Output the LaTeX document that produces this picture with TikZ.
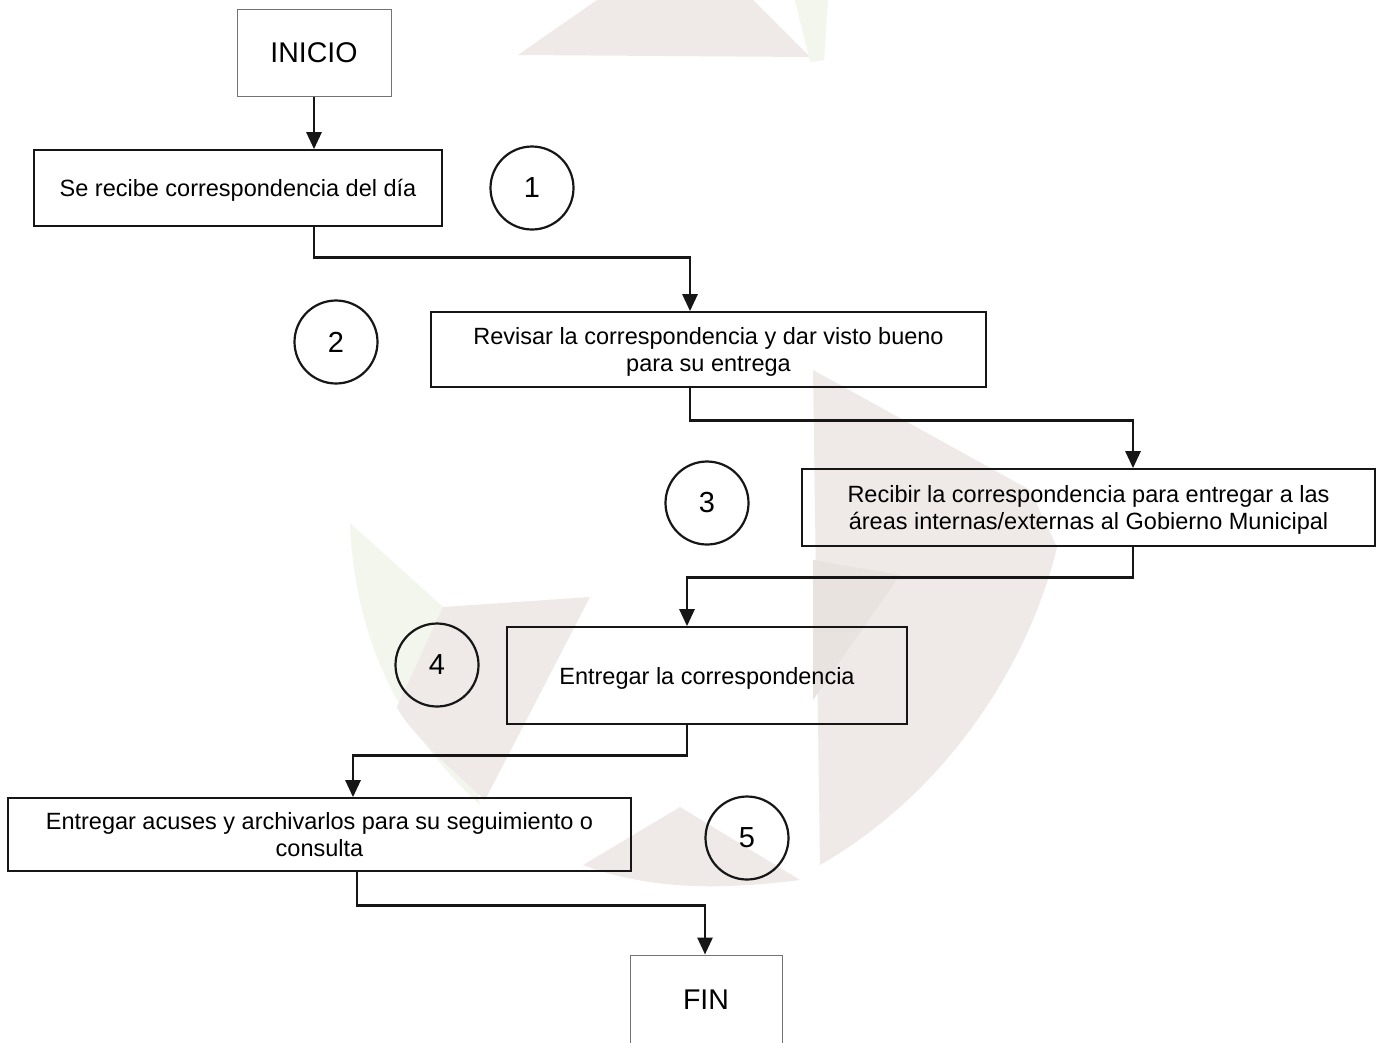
\documentclass[tikz,border=0pt]{standalone}
\usepackage{fontspec}
\setmainfont{Liberation Sans}
\usetikzlibrary{arrows.meta,positioning}
\definecolor{wmgrey}{HTML}{EFEAE8}
\definecolor{wmdark}{HTML}{E9E3E0}
\definecolor{wmgreen}{HTML}{F2F6ED}
\definecolor{ink}{HTML}{161616}
\tikzset{
  stepbox/.style={draw=ink, line width=1.7pt, rectangle, align=center,
    inner sep=0pt, text depth=0pt, font=\fontsize{23.5}{27.5}\selectfont},
  termbox/.style={draw=black!55, line width=1pt, rectangle, align=center,
    inner sep=0pt, font=\fontsize{28.5}{32}\selectfont},
  num/.style={draw=ink, line width=2.2pt, circle, minimum size=83pt,
    inner sep=0pt, font=\fontsize{29}{32}\selectfont},
  conn/.style={draw=ink, line width=2.8pt,
    -{Triangle[width=15pt,length=17pt]}},
}
\begin{document}
\begin{tikzpicture}[x=1pt,y=-1pt]
\useasboundingbox (0,0) rectangle (1380,1042);
\fill[white] (0,0) rectangle (1380,1042);

% pale background emblem
\fill[wmgrey] (518,55) -- (597,0) -- (753,0) -- (810,57) -- cycle;
\fill[wmgreen] (795,0) -- (828,0) -- (824,60) -- (810,62) -- cycle;
\fill[wmgrey] (813,370) -- (1030,490) -- (1057,547)
  .. controls (1030,660) and (950,790) .. (820,865) -- cycle;
\fill[wmdark] (813,560) -- (900,575) -- (813,700) -- cycle;
\fill[wmgreen] (350,523) -- (443,607) -- (480,805)
  .. controls (400,730) and (355,640) .. cycle;
\fill[wmgrey] (443,607) -- (590,597) -- (485,800)
  .. controls (440,760) and (405,725) .. (397,707) -- cycle;
\fill[wmgrey] (583,865) -- (680,807) -- (800,880)
  .. controls (720,890) and (650,890) .. cycle;

% terminals
\node[termbox, minimum width=154pt, minimum height=87pt] (ini) at (314,52.5) {INICIO};
\node[termbox, minimum width=152pt, minimum height=90pt] (fin) at (706,1000) {FIN};

% process steps
\node[stepbox, minimum width=408pt, minimum height=76pt] (b1) at (238,188)
  {Se recibe correspondencia del día};
\node[stepbox, minimum width=555pt, minimum height=75pt] (b2) at (708.5,349.5)
  {Revisar la correspondencia y dar visto bueno\\para su entrega};
\node[stepbox, minimum width=573pt, minimum height=77pt] (b3) at (1088.5,507.5)
  {Recibir la correspondencia para entregar a las\\áreas internas/externas al Gobierno Municipal};
\node[stepbox, minimum width=400pt, minimum height=97pt] (b4) at (707,675.5)
  {Entregar la correspondencia};
\node[stepbox, minimum width=623pt, minimum height=73pt] (b5) at (319.5,834.5)
  {Entregar acuses y archivarlos para su seguimiento o\\consulta};

% step numbers
\node[num] (n1) at (532,188) {1};
\node[num] (n2) at (336,342) {2};
\node[num] (n3) at (707,503) {3};
\node[num] (n4) at (437,665) {4};
\node[num] (n5) at (747,838) {5};

% connectors
\draw[conn] (ini.south) -- (ini.south |- b1.north);
\draw[conn] ([xshift=76pt]b1.south) -- ++(0,31) -| ([xshift=-18.5pt]b2.north);
\draw[conn] ([xshift=-18.5pt]b2.south) -- ++(0,33) -| ([xshift=44.5pt]b3.north);
\draw[conn] ([xshift=44.5pt]b3.south) -- ++(0,31) -| ([xshift=-20pt]b4.north);
\draw[conn] ([xshift=-20pt]b4.south) -- ++(0,31) -| ([xshift=33.5pt]b5.north);
\draw[conn] ([xshift=37.5pt]b5.south) -- ++(0,34) -| ([xshift=-1pt]fin.north);
\end{tikzpicture}
\end{document}
